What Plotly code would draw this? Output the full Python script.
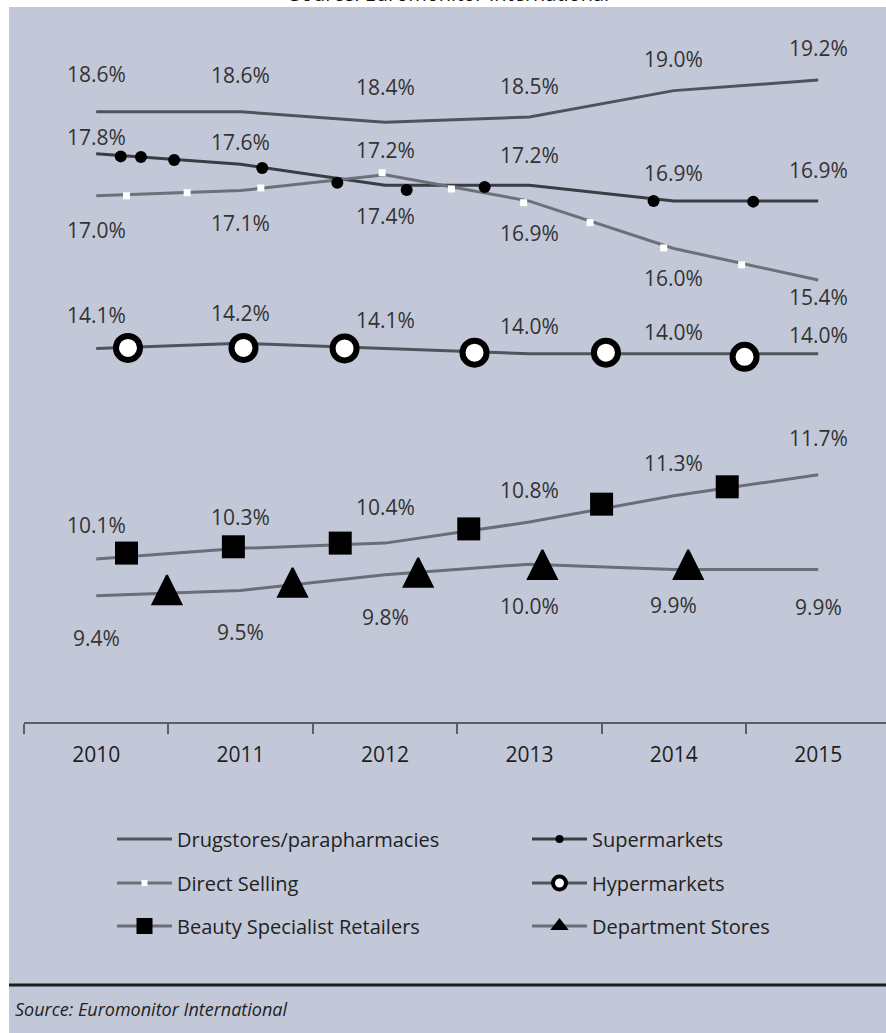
import plotly.graph_objects as go

# ---------------- data ----------------
years = [2010, 2011, 2012, 2013, 2014, 2015]
year_labels = ["2010", "2011", "2012", "2013", "2014", "2015"]

series_names = [
    "Drugstores/parapharmacies",
    "Supermarkets",
    "Direct Selling",
    "Hypermarkets",
    "Beauty Specialist Retailers",
    "Department Stores",
]

drugstores = [18.6, 18.6, 18.4, 18.5, 19.0, 19.2]
supermarkets = [17.8, 17.6, 17.2, 17.2, 16.9, 16.9]
direct_selling = [17.0, 17.1, 17.4, 16.9, 16.0, 15.4]
hypermarkets = [14.1, 14.2, 14.1, 14.0, 14.0, 14.0]
beauty = [10.1, 10.3, 10.4, 10.8, 11.3, 11.7]
department = [9.4, 9.5, 9.8, 10.0, 9.9, 9.9]

# decorative marker locations (year, share %)
super_mk_x = [2010.17, 2010.31, 2010.54, 2011.15, 2011.67, 2012.15, 2012.69, 2013.86, 2014.55]
super_mk_y = [17.75, 17.74, 17.68, 17.53, 17.25, 17.11, 17.17, 16.90, 16.89]
direct_mk_x = [2010.21, 2010.63, 2011.14, 2011.98, 2012.46, 2012.96, 2013.42, 2013.93, 2014.47]
direct_mk_y = [17.00, 17.06, 17.15, 17.44, 17.13, 16.87, 16.49, 16.01, 15.69]
hyper_mk_x = [2010.22, 2011.02, 2011.72, 2012.62, 2013.53, 2014.49]
hyper_mk_y = [14.11, 14.11, 14.10, 14.02, 14.02, 13.94]
beauty_mk_x = [2010.21, 2010.95, 2011.69, 2012.58, 2013.50, 2014.37]
beauty_mk_y = [10.21, 10.33, 10.40, 10.67, 11.14, 11.47]
dept_mk_x = [2010.49, 2011.36, 2012.23, 2013.09, 2014.10]
dept_mk_y = [9.79, 9.93, 10.12, 10.27, 10.27]

title_text = "Source: Euromonitor International"
source_text = "Source: Euromonitor International"

# ---------------- styles ----------------
FONT = "Open Sans"
BG = "#C3C8D9"
TXT = "#333333"

L, T, W, H = 24, 38, 862, 684
FIG_W, FIG_H = 886, 1033


def pxx(px):
    return (px - L) / W


def pxy(py):
    return (T + H - py) / H


line_styles = {
    "Drugstores/parapharmacies": dict(color="#4F535B", width=3),
    "Supermarkets": dict(color="#3A3D44", width=3),
    "Direct Selling": dict(color="#6C7079", width=3),
    "Hypermarkets": dict(color="#50545C", width=3),
    "Beauty Specialist Retailers": dict(color="#6A6E77", width=3),
    "Department Stores": dict(color="#6A6E77", width=3),
}

# label vertical offsets in px (positive = below the point)
label_offsets = {
    "Drugstores/parapharmacies": [-38, -37, -35, -31, -32, -32],
    "Supermarkets": [-17, -22, -35, -30, -28, -31],
    "Direct Selling": [34, 32, 41, 32, 30, 17],
    "Hypermarkets": [-33, -30, -28, -28, -22, -19],
    "Beauty Specialist Retailers": [-34, -31, -36, -32, -33, -37],
    "Department Stores": [42, 42, 42, 42, 36, 38],
}

values = {
    "Drugstores/parapharmacies": drugstores,
    "Supermarkets": supermarkets,
    "Direct Selling": direct_selling,
    "Hypermarkets": hypermarkets,
    "Beauty Specialist Retailers": beauty,
    "Department Stores": department,
}

markers = {
    "Supermarkets": (super_mk_x, super_mk_y, dict(symbol="circle", size=12, color="black")),
    "Direct Selling": (direct_mk_x, direct_mk_y, dict(symbol="square", size=7, color="white")),
    "Hypermarkets": (hyper_mk_x, hyper_mk_y,
                     dict(symbol="circle", size=24, color="white", line=dict(color="black", width=6))),
    "Beauty Specialist Retailers": (beauty_mk_x, beauty_mk_y, dict(symbol="square", size=23, color="black")),
    "Department Stores": (dept_mk_x, dept_mk_y, dict(symbol="arrow-up", size=29, color="black",
                                                     line=dict(color="black", width=2))),
}

legend_markers = {
    "Drugstores/parapharmacies": None,
    "Supermarkets": dict(symbol="circle", size=8, color="black"),
    "Direct Selling": dict(symbol="square", size=6, color="white"),
    "Hypermarkets": dict(symbol="circle", size=13, color="white", line=dict(color="black", width=4)),
    "Beauty Specialist Retailers": dict(symbol="square", size=16, color="black"),
    "Department Stores": dict(symbol="triangle-up", size=16, color="black"),
}

legend_of = {
    "Drugstores/parapharmacies": "legend",
    "Supermarkets": "legend",
    "Direct Selling": "legend2",
    "Hypermarkets": "legend2",
    "Beauty Specialist Retailers": "legend3",
    "Department Stores": "legend3",
}

fig = go.Figure()

# lines
for name in series_names:
    fig.add_trace(go.Scatter(
        x=years, y=values[name], mode="lines", line=line_styles[name],
        showlegend=False, hoverinfo="skip"))

# decorative markers
for name in series_names:
    if name in markers:
        mx, my, mk = markers[name]
        fig.add_trace(go.Scatter(
            x=mx, y=my, mode="markers", marker=mk, showlegend=False, hoverinfo="skip", cliponaxis=False))

# legend-only entries
for name in series_names:
    mk = legend_markers[name]
    fig.add_trace(go.Scatter(
        x=[None], y=[None], name=name,
        mode="lines+markers" if mk else "lines",
        line=line_styles[name], marker=mk if mk else None,
        legend=legend_of[name], showlegend=True))

# value labels
annotations = []
for name in series_names:
    for x, v, off in zip(years, values[name], label_offsets[name]):
        annotations.append(dict(
            x=x, y=v, xref="x", yref="y", text=f"{v:.1f}%", showarrow=False,
            yshift=-off, font=dict(family=FONT, size=21, color=TXT)))

# cropped title at very top (as in the reference, only its lower edge is visible)
annotations.append(dict(
    x=pxx(449), y=pxy(9), xref="paper", yref="paper", xanchor="center", yanchor="bottom",
    text=title_text, showarrow=False, font=dict(family=FONT, size=20, color="#111111")))

# source note
annotations.append(dict(
    x=pxx(13), y=pxy(1009), xref="paper", yref="paper", xanchor="left", yanchor="middle",
    text=f"<i>{source_text}</i>", showarrow=False, font=dict(family=FONT, size=18, color="#222222")))

shapes = [
    dict(type="rect", xref="paper", yref="paper", x0=pxx(9), x1=pxx(FIG_W + 5),
         y0=pxy(FIG_H + 5), y1=pxy(7), fillcolor=BG, line=dict(width=0), layer="below"),
    dict(type="line", xref="paper", yref="paper", x0=pxx(9), x1=pxx(FIG_W + 5),
         y0=pxy(985), y1=pxy(985), line=dict(color="#1E1E1E", width=3)),
]

legend_common = dict(
    orientation="h", xanchor="left", yanchor="middle", bgcolor="rgba(0,0,0,0)",
    font=dict(family=FONT, size=20, color="#222222"), entrywidth=345, itemwidth=55,
    itemclick=False, itemdoubleclick=False,
)

fig.update_layout(
    width=FIG_W, height=FIG_H, autosize=False,
    margin=dict(l=L, r=FIG_W - L - W, t=T, b=FIG_H - T - H, autoexpand=False),
    paper_bgcolor="white", plot_bgcolor="rgba(0,0,0,0)",
    font=dict(family=FONT, color=TXT),
    xaxis=dict(
        range=[2009.5, 2009.5 + W / 144.4], tickvals=years, ticktext=year_labels,
        ticks="", showgrid=False, zeroline=False, showline=True, linecolor="#595E69", linewidth=2,
        tickfont=dict(family=FONT, size=21, color="#1E1E1E"), ticklabelstandoff=13,
        minor=dict(tickmode="array", tickvals=[2009.5 + i for i in range(7)], ticks="outside",
                   ticklen=10, tickwidth=2, tickcolor="#595E69", showgrid=False),
        fixedrange=True,
    ),
    yaxis=dict(range=[7.0, 20.0], visible=False, fixedrange=True),
    legend=dict(legend_common, x=pxx(112), y=pxy(839)),
    legend2=dict(legend_common, x=pxx(112), y=pxy(883)),
    legend3=dict(legend_common, x=pxx(112), y=pxy(926)),
    annotations=annotations,
    shapes=shapes,
    showlegend=True,
)

fig.write_html("out.html")
